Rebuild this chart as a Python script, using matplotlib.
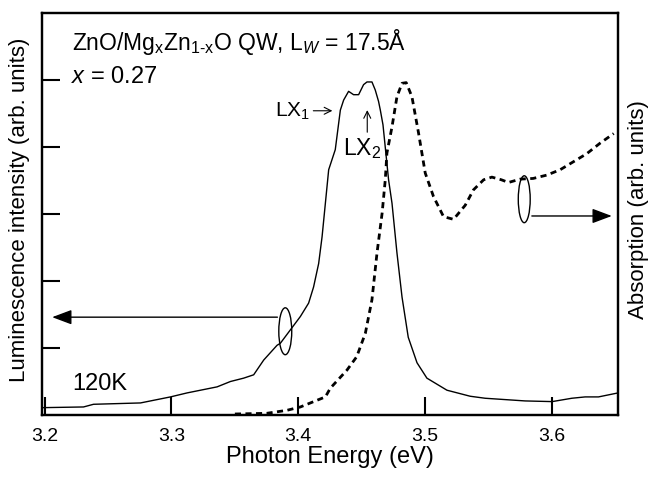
import matplotlib
matplotlib.use('Agg')
from matplotlib import pyplot as plt
from matplotlib.patches import Ellipse

plt.rcParams['font.family'] = ['Liberation Sans', 'DejaVu Sans']
plt.rcParams['mathtext.fontset'] = 'custom'
plt.rcParams['mathtext.rm'] = 'Liberation Sans'
plt.rcParams['mathtext.it'] = 'Liberation Sans:italic'


# luminescence (solid)
e_lum = [3.1992, 3.2307, 3.2386, 3.2756, 3.2992, 3.3124, 3.3360, 3.3465, 3.3569, 3.3648,
         3.3727, 3.3832, 3.3858, 3.3937, 3.4016, 3.4081, 3.4120, 3.4160, 3.4187, 3.4213,
         3.4239, 3.4291, 3.4331, 3.4357, 3.4396, 3.4435, 3.4475, 3.4514, 3.4541, 3.4580,
         3.4606, 3.4632, 3.4646, 3.4667, 3.4711, 3.4738, 3.4777, 3.4817, 3.4866, 3.4935,
         3.5013, 3.5171, 3.5354, 3.5472, 3.5787, 3.6000, 3.6155, 3.6260, 3.6365, 3.6520]
i_lum = [0.11, 0.12, 0.16, 0.18, 0.27, 0.33, 0.42, 0.50, 0.55, 0.60,
         0.82, 1.04, 1.07, 1.27, 1.47, 1.67, 1.91, 2.26, 2.66, 3.16,
         3.66, 3.96, 4.55, 4.70, 4.83, 4.78, 4.78, 4.93, 4.97, 4.97,
         4.85, 4.68, 4.55, 4.33, 3.51, 3.16, 2.42, 1.76, 1.16, 0.78,
         0.55, 0.37, 0.28, 0.25, 0.21, 0.20, 0.25, 0.27, 0.27, 0.33]

# absorption (dashed)
e_abs = [3.350, 3.375, 3.391, 3.4016, 3.4213, 3.4252, 3.4383, 3.446, 3.4528, 3.458,
         3.462, 3.466, 3.4685, 3.4698, 3.4738, 3.4777, 3.4817, 3.485, 3.4895, 3.4947,
         3.500, 3.5065, 3.5144, 3.5223, 3.5315, 3.538, 3.546, 3.5525, 3.560, 3.5656,
         3.5748, 3.585, 3.5958, 3.6063, 3.6168, 3.6273, 3.638, 3.6485]
a_abs = [0.015, 0.025, 0.07, 0.12, 0.27, 0.40, 0.67, 0.87, 1.22, 1.72,
         2.42, 3.01, 3.51, 3.91, 4.30, 4.75, 4.95, 4.96, 4.75, 4.21,
         3.61, 3.26, 2.96, 2.92, 3.13, 3.36, 3.51, 3.55, 3.51, 3.47,
         3.52, 3.53, 3.58, 3.66, 3.78, 3.90, 4.06, 4.20]

xticks = [3.2, 3.3, 3.4, 3.5, 3.6]


fig = plt.figure(figsize=(6.5, 4.79), dpi=100)
ax = fig.add_axes([0.0646, 0.1336, 0.8864, 0.8394])
ax2 = ax.twinx()

ax.plot(e_lum, i_lum, color='k', lw=1.0)
ax2.plot(e_abs, a_abs, color='k', lw=2.0, dashes=(2.2, 1.6))

ax.set_xlim(3.198, 3.652)
ax.set_ylim(0, 6)
ax2.set_ylim(0, 6)
ax.set_xticks(xticks)
ax.set_xticklabels([f'{t:.1f}' for t in xticks], fontsize=14)
ax.set_yticks([1, 2, 3, 4, 5])
ax.set_yticklabels([])
ax2.set_yticks([])
ax.tick_params(direction='in', length=13, width=1.5, pad=9)
for a in (ax, ax2):
    for s in a.spines.values():
        s.set_linewidth(1.6)

ax.set_xlabel('Photon Energy (eV)', fontsize=17, labelpad=1)
ax.set_ylabel('Luminescence intensity (arb. units)', fontsize=16)
ax.yaxis.set_label_coords(-0.02, 0.51)
ax2.set_ylabel('Absorption (arb. units)', fontsize=16)
ax2.yaxis.set_label_coords(1.017, 0.51)

# annotations
ax.text(3.222, 5.45, r'ZnO/Mg$_\mathregular{x}$Zn$_\mathregular{1\text{-}x}$O QW, L$_W$ = 17.5Å',
        fontsize=16.5, va='baseline')
ax.text(3.2205, 4.96, r'$x$ = 0.27', fontsize=17, va='baseline')
ax.text(3.3819, 4.45, r'LX$_\mathregular{1}$', fontsize=15, va='baseline')
ax.annotate('', xy=(3.4268, 4.54), xytext=(3.4118, 4.54),
            arrowprops=dict(arrowstyle='->,head_length=0.5,head_width=0.25',
                            color='k', lw=0.8, shrinkA=0, shrinkB=0))
ax.annotate('', xy=(3.4543, 4.55), xytext=(3.4543, 4.22),
            arrowprops=dict(arrowstyle='->,head_length=0.5,head_width=0.25',
                            color='k', lw=0.8, shrinkA=0, shrinkB=0))
ax.text(3.4354, 3.88, r'LX$_\mathregular{2}$', fontsize=16.5, va='baseline')
ax.text(3.222, 0.37, '120K', fontsize=17, va='baseline')

# pointer loops and arrows
ax.add_patch(Ellipse((3.3897, 1.25), 0.0102, 0.70, fill=False, lw=1.0))
ax.annotate('', xy=(3.206, 1.46), xytext=(3.3835, 1.46),
            arrowprops=dict(arrowstyle='-|>,head_length=1.2,head_width=0.45',
                            color='k', lw=1.0, shrinkA=0, shrinkB=0))
ax.add_patch(Ellipse((3.578, 3.22), 0.0094, 0.70, fill=False, lw=1.0))
ax.annotate('', xy=(3.647, 2.97), xytext=(3.584, 2.97),
            arrowprops=dict(arrowstyle='-|>,head_length=1.2,head_width=0.45',
                            color='k', lw=1.0, shrinkA=0, shrinkB=0))

fig.savefig('out.png', dpi=100)
